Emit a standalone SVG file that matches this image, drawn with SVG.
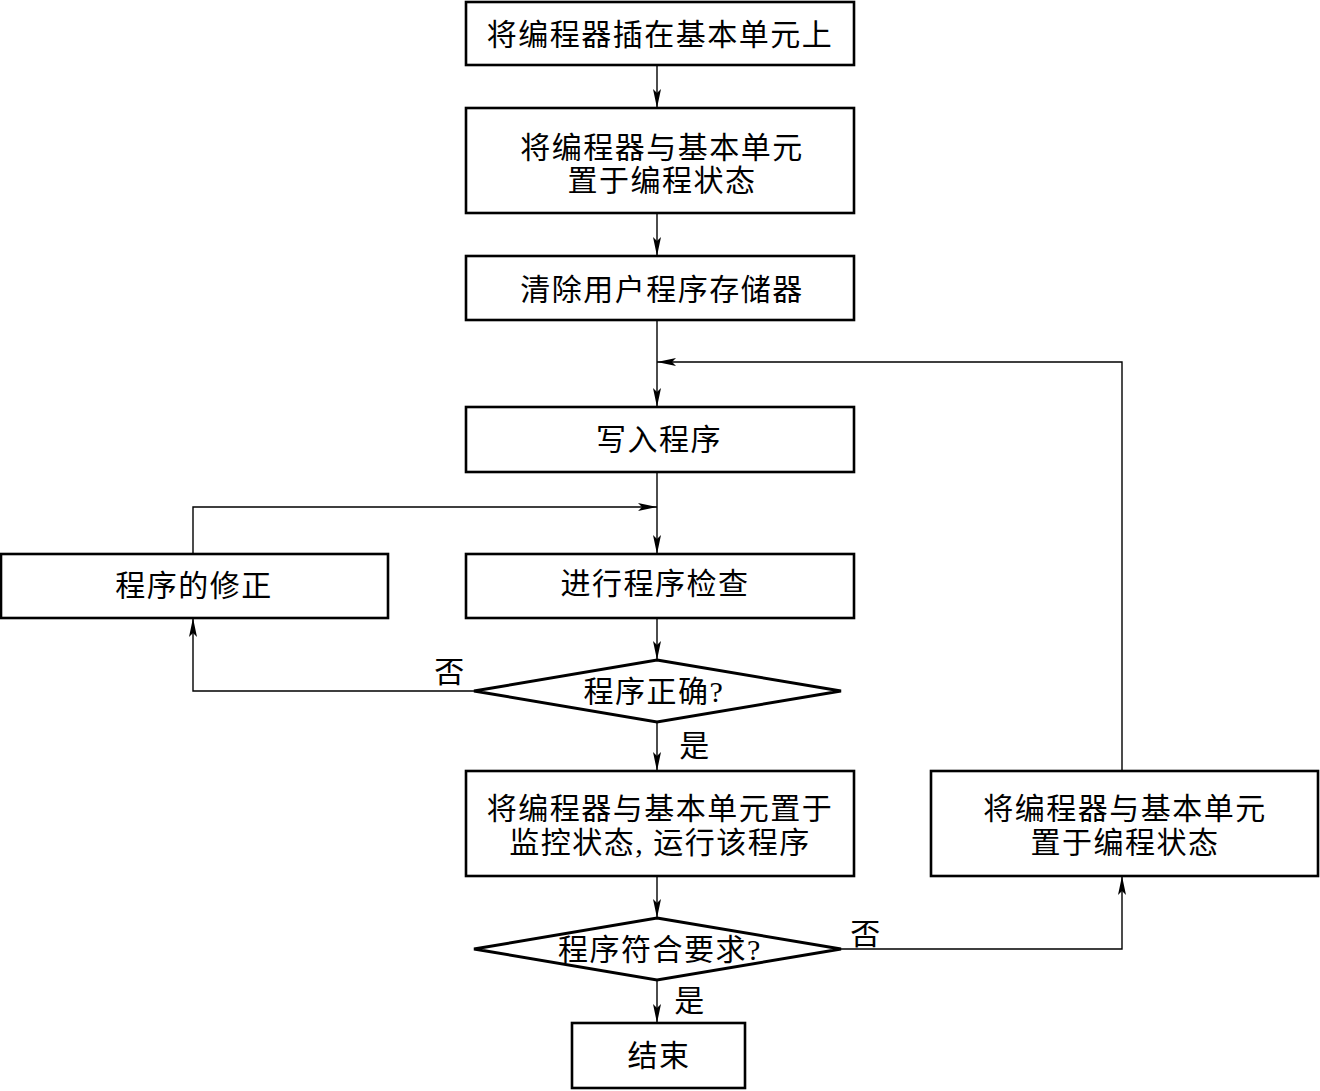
<svg xmlns="http://www.w3.org/2000/svg" width="1320" height="1091" viewBox="0 0 1320 1091">
<defs>
<marker id="ah" markerWidth="20" markerHeight="8" refX="19" refY="4" orient="auto" markerUnits="userSpaceOnUse">
<path d="M0,0 L19,4 L0,8 L4,4 Z" fill="#000"/>
</marker>
<style>
.box{fill:#fff;stroke:#000;stroke-width:2.6}
.dia{fill:#fff;stroke:#000;stroke-width:3}
.ln{fill:none;stroke:#000;stroke-width:1.4}
.t{font-family:"Liberation Serif","Noto Sans CJK SC",serif;font-size:30px;fill:#000;text-anchor:middle;letter-spacing:1.5px}
</style>
</defs>
<rect width="1320" height="1091" fill="#fff"/>
<g id="connectors">
<path class="ln" d="M657,65 V108" marker-end="url(#ah)"/>
<path class="ln" d="M657,213 V256" marker-end="url(#ah)"/>
<path class="ln" d="M657,320 V407" marker-end="url(#ah)"/>
<path class="ln" d="M1122,771 V362 H657" marker-end="url(#ah)"/>
<path class="ln" d="M657,472 V554" marker-end="url(#ah)"/>
<path class="ln" d="M193,554 V507 H657" marker-end="url(#ah)"/>
<path class="ln" d="M657,618 V660" marker-end="url(#ah)"/>
<path class="ln" d="M474,691 H193 V618" marker-end="url(#ah)"/>
<path class="ln" d="M657,722 V771" marker-end="url(#ah)"/>
<path class="ln" d="M657,876 V918" marker-end="url(#ah)"/>
<path class="ln" d="M841,949 H1122 V876" marker-end="url(#ah)"/>
<path class="ln" d="M657,980 V1023" marker-end="url(#ah)"/>
</g>
<g id="n1"><rect class="box" x="466" y="2" width="388" height="63"/><text class="t" x="660" y="45">将编程器插在基本单元上</text></g>
<g id="n2"><rect class="box" x="466" y="108" width="388" height="105"/><text class="t" x="662" y="158">将编程器与基本单元</text><text class="t" x="662" y="191">置于编程状态</text></g>
<g id="n3"><rect class="box" x="466" y="256" width="388" height="64"/><text class="t" x="662" y="300">清除用户程序存储器</text></g>
<g id="n4"><rect class="box" x="466" y="407" width="388" height="65"/><text class="t" x="659" y="450">写入程序</text></g>
<g id="n5"><rect class="box" x="466" y="554" width="388" height="64"/><text class="t" x="655" y="594">进行程序检查</text></g>
<g id="n6"><rect class="box" x="1" y="554" width="387" height="64"/><text class="t" x="194" y="596">程序的修正</text></g>
<g id="d1"><polygon class="dia" points="657,660 841,691 657,722 474,691"/><text class="t" x="654" y="702">程序正确?</text></g>
<g id="n7"><rect class="box" x="466" y="771" width="388" height="105"/><text class="t" x="660" y="819">将编程器与基本单元置于</text><text class="t" x="660" y="853">监控状态, 运行该程序</text></g>
<g id="n8"><rect class="box" x="931" y="771" width="387" height="105"/><text class="t" x="1125" y="819">将编程器与基本单元</text><text class="t" x="1125" y="853">置于编程状态</text></g>
<g id="d2"><polygon class="dia" points="657,918 841,949 657,980 474,949"/><text class="t" x="660" y="960">程序符合要求?</text></g>
<g id="n9"><rect class="box" x="572" y="1023" width="173" height="65"/><text class="t" x="659" y="1066">结束</text></g>
<g id="labels">
<text class="t" x="450" y="682">否</text>
<text class="t" x="695" y="756">是</text>
<text class="t" x="866" y="944">否</text>
<text class="t" x="690" y="1011">是</text>
</g>
</svg>
